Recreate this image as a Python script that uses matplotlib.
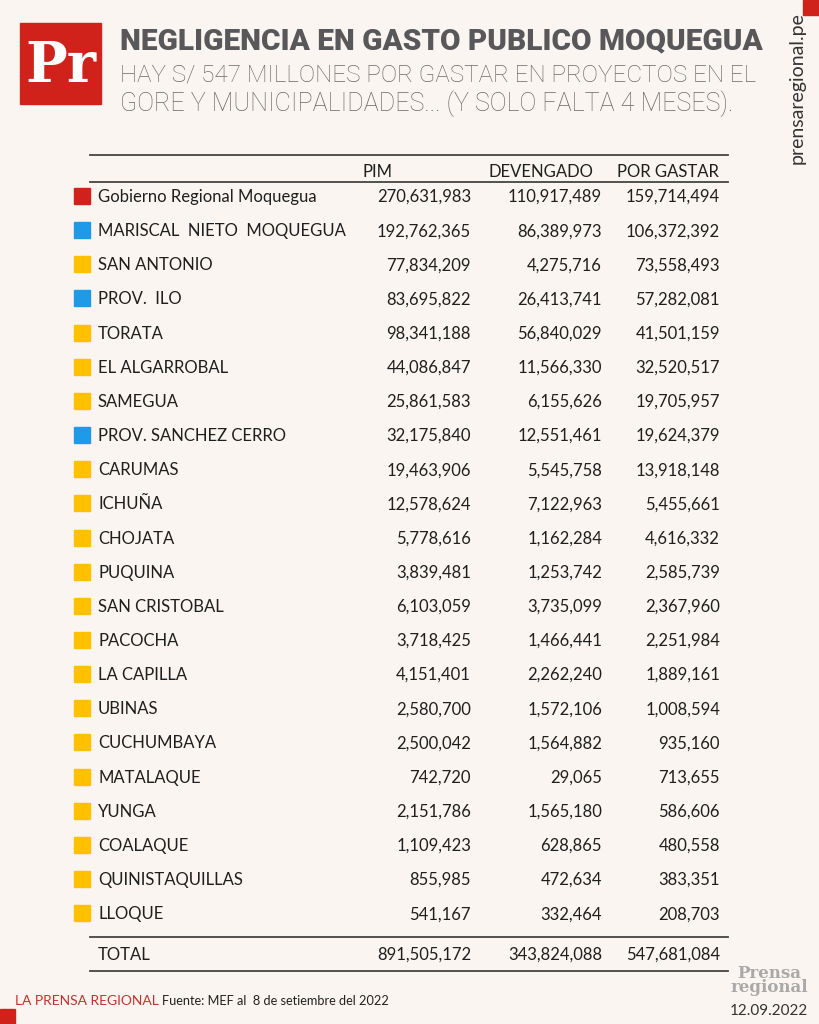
import matplotlib as mpl
import matplotlib.pyplot as plt
from matplotlib.patches import Rectangle

W, H = 819, 1024
mpl.rcParams['font.family'] = ['Lato', 'DejaVu Sans']

# Data
names = ['Gobierno Regional Moquegua', 'MARISCAL  NIETO  MOQUEGUA', 'SAN ANTONIO', 'PROV.  ILO',
         'TORATA', 'EL ALGARROBAL', 'SAMEGUA', 'PROV. SANCHEZ CERRO', 'CARUMAS', 'ICHUÑA',
         'CHOJATA', 'PUQUINA', 'SAN CRISTOBAL', 'PACOCHA', 'LA CAPILLA', 'UBINAS',
         'CUCHUMBAYA', 'MATALAQUE', 'YUNGA', 'COALAQUE', 'QUINISTAQUILLAS', 'LLOQUE']
kind = ['region', 'prov', 'dist', 'prov', 'dist', 'dist', 'dist', 'prov', 'dist', 'dist',
        'dist', 'dist', 'dist', 'dist', 'dist', 'dist', 'dist', 'dist', 'dist', 'dist', 'dist', 'dist']
pim = [270631983, 192762365, 77834209, 83695822, 98341188, 44086847, 25861583, 32175840,
       19463906, 12578624, 5778616, 3839481, 6103059, 3718425, 4151401, 2580700, 2500042,
       742720, 2151786, 1109423, 855985, 541167]
devengado = [110917489, 86389973, 4275716, 26413741, 56840029, 11566330, 6155626, 12551461,
             5545758, 7122963, 1162284, 1253742, 3735099, 1466441, 2262240, 1572106, 1564882,
             29065, 1565180, 628865, 472634, 332464]
por_gastar = [159714494, 106372392, 73558493, 57282081, 41501159, 32520517, 19705957, 19624379,
              13918148, 5455661, 4616332, 2585739, 2367960, 2251984, 1889161, 1008594, 935160,
              713655, 586606, 480558, 383351, 208703]
totals = [891505172, 343824088, 547681084]
headers = ['PIM', 'DEVENGADO', 'POR GASTAR']

bg = '#FAF5F0'
red = '#D0221B'
kind_color = {'region': '#D0221B', 'prov': '#1E9BE8', 'dist': '#FFC000'}
ink = '#1f1f1f'

fig = plt.figure(figsize=(W / 100, H / 100), dpi=100, facecolor=bg)
ax = fig.add_axes([0, 0, 1, 1])
ax.set_xlim(0, W)
ax.set_ylim(H, 0)
ax.axis('off')
ax.set_facecolor(bg)


def fit(t, width):
    # shrink/grow the font so the text spans the given pixel width
    fig.canvas.draw()
    w = t.get_window_extent().width
    t.set_fontsize(t.get_fontsize() * width / w)


# logo
ax.add_patch(Rectangle((20, 23), 81, 81, color=red))
ax.text(60.5, 66, 'Pr', color='white', fontsize=40, fontweight='bold', family='DejaVu Serif',
        ha='center', va='center')
ax.add_patch(Rectangle((803, 0), 16, 15, color=red))
ax.add_patch(Rectangle((0, 1009), 15, 15, color=red))

# titles
t = ax.text(120, 41, 'NEGLIGENCIA EN GASTO PUBLICO MOQUEGUA', color='#58585a', fontsize=20.5,
            fontweight='heavy', family='Roboto', va='center', ha='left')
fit(t, 643)
t = ax.text(120, 75, 'HAY S/ 547 MILLONES POR GASTAR EN PROYECTOS EN EL', color='#6a6a6a',
            fontsize=18, fontweight='light', family='Roboto', va='center', ha='left')
fit(t, 637)
t = ax.text(120, 104, 'GORE Y MUNICIPALIDADES... (Y SOLO FALTA 4 MESES).', color='#6a6a6a',
            fontsize=18, fontweight='light', family='Roboto', va='center', ha='left')
fit(t, 612)
ax.text(797, 88, 'prensaregional.pe', color='#333333', fontsize=14, rotation=90,
        family='Lato', va='center', ha='center')

# table
x0, x1 = 90, 728
fs = 12
col_right = [471, 602, 720]
head_left = [362, 488, 617]
ax.plot([x0, x1], [155, 155], color='#444444', lw=1.3)
ax.plot([x0, x1], [182, 182], color='#444444', lw=1.3)
for hx, h in zip(head_left, headers):
    ax.text(hx, 172, h, fontsize=fs, color=ink, ha='left', va='center')

y_first, dy = 197, 34.15
for i, nm in enumerate(names):
    y = y_first + i * dy
    ax.add_patch(Rectangle((74, y - 9), 16, 16, color=kind_color[kind[i]]))
    ax.text(98, y, nm, fontsize=fs, color=ink, ha='left', va='center')
    for hx, v in zip(col_right, (pim[i], devengado[i], por_gastar[i])):
        ax.text(hx, y, f'{v:,}', fontsize=fs, color=ink, ha='right', va='center')

ax.plot([x0, x1], [937, 937], color='#444444', lw=1.3)
ax.plot([x0, x1], [971, 971], color='#444444', lw=1.3)
ax.text(98, 955, 'TOTAL', fontsize=fs, color=ink, ha='left', va='center')
for hx, v in zip(col_right, totals):
    ax.text(hx, 955, f'{v:,}', fontsize=fs, color=ink, ha='right', va='center')

# footer
t1 = ax.text(15, 1001, 'LA PRENSA REGIONAL', color='#C9302C', fontsize=10, ha='left', va='center')
fig.canvas.draw()
bb = t1.get_window_extent()
t2 = ax.text(15 + bb.width + 3, 1001, 'Fuente: MEF al  8 de setiembre del 2022', color='#222222',
             fontsize=10, ha='left', va='center')
fit(t2, 388 - 160)
ax.text(769, 973, 'Prensa', color='#a9a9a9', fontsize=12, fontweight='bold', family='DejaVu Serif',
        ha='center', va='center')
ax.text(769, 988, 'regional', color='#a9a9a9', fontsize=12, fontweight='bold', family='DejaVu Serif',
        ha='center', va='center')
ax.text(769, 1011, '12.09.2022', color='#333333', fontsize=11, ha='center', va='center')

fig.savefig('out.png', dpi=100, facecolor=bg)
